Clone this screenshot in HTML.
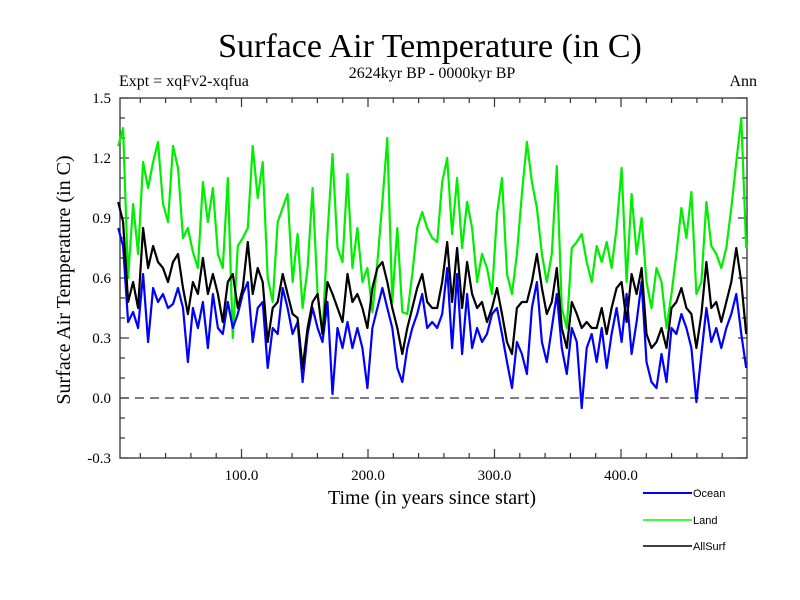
<!DOCTYPE html>
<html><head><meta charset="utf-8"><style>
body{margin:0;background:#fff}
svg{display:block}
text{font-family:"Liberation Serif",serif;fill:#000}
.leg{font-family:"Liberation Sans",sans-serif;font-size:11px}
</style></head><body>
<svg id="chart" width="800" height="600" viewBox="0 0 800 600" xmlns="http://www.w3.org/2000/svg">
<rect width="800" height="600" fill="#fff"/>
<text x="430" y="57" font-size="34" text-anchor="middle">Surface Air Temperature (in C)</text>
<text x="432" y="78" font-size="16" text-anchor="middle">2624kyr BP - 0000kyr BP</text>
<text x="119" y="86" font-size="16">Expt = xqFv2-xqfua</text>
<text x="757" y="86" font-size="16" text-anchor="end">Ann</text>
<text transform="translate(70,280) rotate(-90)" font-size="20" text-anchor="middle">Surface Air Temperature (in C)</text>
<text x="432" y="504" font-size="20" text-anchor="middle">Time (in years since start)</text>
<g id="axes"></g>
<g id="series"></g>
<g id="legend">
<line x1="643" y1="493" x2="692" y2="493" stroke="#0000ff" stroke-width="2"/>
<text class="leg" x="693" y="497">Ocean</text>
<line x1="643" y1="520" x2="692" y2="520" stroke="#00ff00" stroke-width="1.5"/>
<text class="leg" x="693" y="524">Land</text>
<line x1="643" y1="546" x2="692" y2="546" stroke="#000" stroke-width="1.5"/>
<text class="leg" x="693" y="550">AllSurf</text>
</g>
</svg>
<script>
const land=[1.26,1.35,0.6,0.97,0.72,1.18,1.05,1.18,1.28,0.97,0.88,1.26,1.15,0.8,0.85,0.73,0.65,1.08,0.88,1.05,0.72,0.65,1.1,0.3,0.76,0.8,0.85,1.26,1.0,1.18,0.6,0.48,0.88,
0.95,1.02,0.58,0.82,0.45,0.65,1.05,0.52,0.32,0.82,1.22,0.75,0.68,1.12,0.65,0.85,0.58,0.65,0.43,0.68,0.98,1.3,0.48,0.85,0.43,0.42,0.62,0.85,0.93,0.85,0.8,
0.78,1.08,1.2,0.82,1.1,0.75,0.98,0.85,0.58,0.72,0.65,0.52,0.92,1.1,0.62,0.52,0.72,1.02,1.28,1.08,0.95,0.72,0.58,0.72,1.16,0.45,0.35,0.75,0.78,0.82,0.68,0.58,
0.76,0.68,0.78,0.65,0.85,1.15,0.58,1.02,0.72,0.9,0.58,0.45,0.65,0.58,0.35,0.52,0.72,0.95,0.8,1.03,0.52,0.58,0.98,0.76,0.72,0.65,0.75,0.95,1.18,1.4,0.75];
const ocean=[0.85,0.76,0.38,0.43,0.35,0.62,0.28,0.55,0.48,0.52,0.45,0.47,0.55,0.45,0.18,0.45,0.35,0.48,0.25,0.52,0.35,0.32,0.48,0.35,0.42,0.52,0.58,0.28,0.45,0.48,0.15,0.35,0.32,
0.55,0.45,0.32,0.38,0.08,0.32,0.45,0.35,0.28,0.48,0.02,0.35,0.25,0.38,0.25,0.35,0.25,0.05,0.35,0.45,0.55,0.45,0.35,0.15,0.08,0.25,0.35,0.42,0.52,0.35,0.38,
0.35,0.42,0.65,0.25,0.62,0.22,0.52,0.25,0.35,0.28,0.32,0.42,0.45,0.32,0.18,0.05,0.28,0.22,0.12,0.45,0.58,0.28,0.18,0.35,0.52,0.25,0.12,0.35,0.28,-0.05,0.25,0.32,
0.18,0.35,0.15,0.32,0.45,0.28,0.52,0.22,0.38,0.58,0.18,0.08,0.05,0.22,0.08,0.35,0.32,0.42,0.35,0.25,-0.02,0.22,0.45,0.28,0.35,0.25,0.35,0.42,0.52,0.32,0.15];
const allsurf=[0.98,0.88,0.48,0.58,0.45,0.85,0.65,0.76,0.68,0.65,0.58,0.68,0.72,0.55,0.42,0.58,0.52,0.7,0.52,0.62,0.52,0.38,0.58,0.62,0.45,0.55,0.78,0.52,0.65,0.58,0.28,0.45,0.48,
0.62,0.52,0.42,0.4,0.15,0.35,0.48,0.52,0.32,0.58,0.52,0.45,0.38,0.62,0.48,0.52,0.45,0.35,0.55,0.65,0.68,0.58,0.45,0.35,0.22,0.35,0.45,0.55,0.62,0.48,0.45,
0.45,0.58,0.78,0.48,0.75,0.45,0.68,0.52,0.45,0.48,0.38,0.45,0.55,0.42,0.28,0.22,0.45,0.48,0.48,0.58,0.72,0.55,0.42,0.48,0.65,0.35,0.25,0.48,0.42,0.35,0.38,0.35,
0.35,0.45,0.32,0.45,0.55,0.58,0.38,0.62,0.52,0.65,0.32,0.25,0.28,0.35,0.25,0.45,0.48,0.55,0.45,0.42,0.25,0.42,0.68,0.45,0.48,0.38,0.48,0.58,0.75,0.58,0.32];
const xTickLabels=["100.0","200.0","300.0","400.0"];
const xTickValues=[100,200,300,400];
const yTickLabels=["-0.3","0.0","0.3","0.6","0.9","1.2","1.5"];
const yTickValues=[-0.3,0,0.3,0.6,0.9,1.2,1.5];

const L=120,R=747,T=98,B=458;
const xs=t=>115+1.265*t;
const ys=v=>398-200*v;
const NS="http://www.w3.org/2000/svg";
function mk(tag,attrs,parent){const e=document.createElementNS(NS,tag);for(const k in attrs)e.setAttribute(k,attrs[k]);parent.appendChild(e);return e;}
const axes=document.getElementById('axes');
const frame=mk('rect',{x:L,y:T,width:R-L,height:B-T,fill:'none',stroke:'#333','stroke-width':1.3},axes);


const zero=mk('line',{x1:L,x2:R,y1:ys(0),y2:ys(0),stroke:'#333','stroke-dasharray':'9,6','stroke-width':1.2},axes);


for(let t=20;t<500;t+=20){const maj=t%100===0;const len=maj?9:5;
 const a=mk('line',{x1:xs(t),x2:xs(t),y1:B,y2:B-len,stroke:'#333','stroke-width':1.2},axes);
 
 
 const b=mk('line',{x1:xs(t),x2:xs(t),y1:T,y2:T+len,stroke:'#333','stroke-width':1.2},axes);
 
 }
for(let i=-3;i<=15;i++){const v=i/10;const maj=(i%3===0);const len=maj?9:5;
 const a=mk('line',{x1:L,x2:L+len,y1:ys(v),y2:ys(v),stroke:'#333','stroke-width':1.2},axes);
 
 
 const b=mk('line',{x1:R,x2:R-len,y1:ys(v),y2:ys(v),stroke:'#333','stroke-width':1.2},axes);
 
 }
xTickLabels.forEach((s,i)=>{const e=mk('text',{x:xs(xTickValues[i]),y:480,'font-size':15,'text-anchor':'middle'},axes);e.textContent=s;
 
 });
yTickLabels.forEach((s,i)=>{const e=mk('text',{x:111,y:ys(yTickValues[i])+5,'font-size':15,'text-anchor':'end'},axes);e.textContent=s;
 
 });
const ser=document.getElementById('series');
function draw(arr,color,name,w){const n=arr.length;const step=(499-2.5)/(n-1);
 const pts=arr.map((v,i)=>xs(2.5+i*step).toFixed(1)+','+ys(v).toFixed(1)).join(' ');
 const p=mk('polyline',{points:pts,fill:'none',stroke:color,'stroke-width':w,'stroke-linejoin':'round'},ser);
 
 }
draw(land,'#00ee00','land-series',2.2);
draw(ocean,'#0000ff','ocean-series',2.2);
draw(allsurf,'#000000','allsurf-series',2.2);
</script>
</body></html>
